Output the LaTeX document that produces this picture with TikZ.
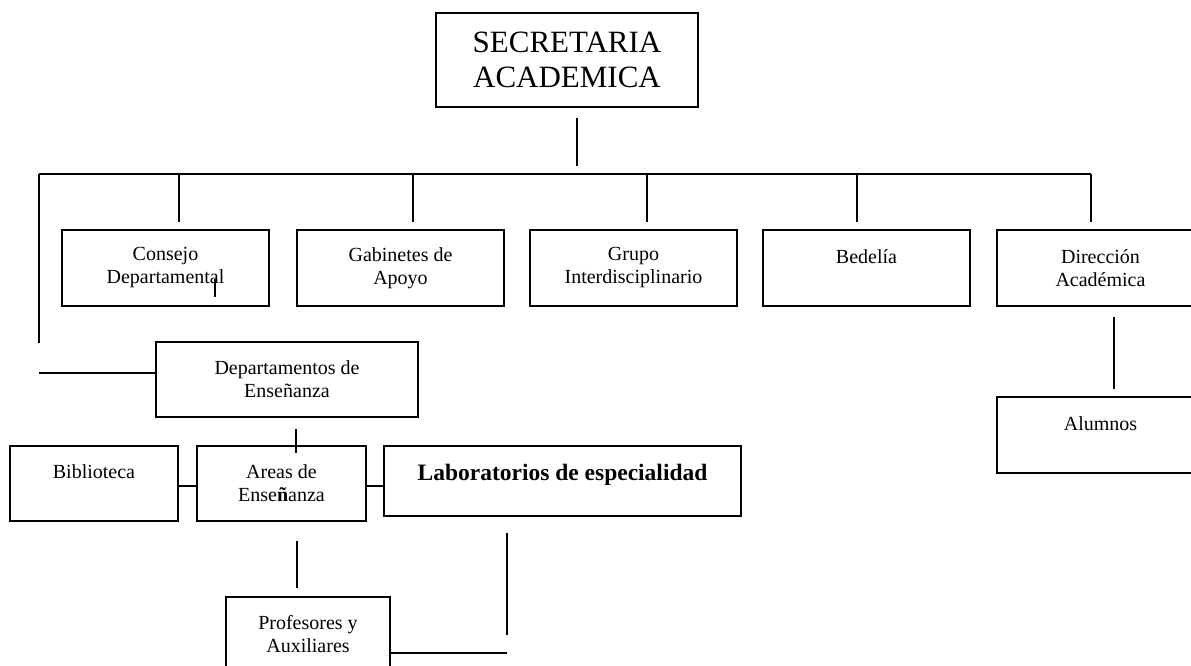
\documentclass[tikz,border=0pt]{standalone}
\usepackage{fontspec}
\setmainfont{Liberation Serif}
\usetikzlibrary{positioning}

\tikzset{
  caja/.style={draw,line width=2pt,align=center,inner sep=0pt,outer sep=0pt,
    font=\fontsize{20}{23}\selectfont},
  fila/.style={caja,minimum width=207pt,minimum height=76pt},
  linea/.style={line width=2pt},
}

\begin{document}
\begin{tikzpicture}[x=1pt,y=-1pt]
  \useasboundingbox (0,0) rectangle (1191,666);
  % secretaria
  \node[caja,minimum width=262pt,minimum height=94pt,
    font=\fontsize{31}{35}\selectfont] (sec) at (567,60) {SECRETARIA\\ACADEMICA};
  % primera fila
  \node[fila] (consejo) at (165.5,268) {Consejo\\Departamental};
  \node[fila,right=28pt of consejo] (gabinetes) {Gabinetes de\\Apoyo};
  \node[fila,right=26pt of gabinetes] (grupo) {Grupo\\Interdisciplinario};
  \node[fila,right=26pt of grupo] (bedelia) {Bedelía\\~};
  \node[fila,right=27pt of bedelia] (direccion) {Dirección\\Académica};
  \node[fila,below=91pt of direccion] (alumnos) {Alumnos\\~};
  % ensenanza
  \node[caja,minimum width=262pt,minimum height=75pt] (dep) at (287,379.5)
    {Departamentos de\\Enseñanza};
  \node[caja,minimum width=169pt,minimum height=75pt] (areas) at (281.5,483.5)
    {Areas de\\Ense\textbf{ñ}anza};
  \node[caja,minimum width=168pt,minimum height=75pt,left=19pt of areas] (biblio)
    {Biblioteca\\~};
  \node[caja,minimum width=357pt,minimum height=70pt,text depth=17pt,
    font=\fontsize{23.5}{27}\selectfont\bfseries] (lab) at (562.5,481)
    {Laboratorios de especialidad};
  \node[caja,minimum width=164pt,minimum height=75pt] (prof) at (308,634.5)
    {Profesores y\\Auxiliares};

  % conectores
  \coordinate (bus-l) at (39,174);
  \coordinate (bus-r) at (1091,174);
  \draw[linea] (bus-l) -- (bus-r);
  \draw[linea,shorten <=11pt,shorten >=8pt]
    ([xshift=10pt]sec.south) -- ([xshift=10pt]sec.south |- bus-l);
  \foreach \n/\dx in {consejo/13.5,gabinetes/12.5,grupo/13.5,bedelia/-9.5,direccion/-9.5}
    \draw[linea,shorten >=8pt] ([xshift=\dx pt]\n.north |- bus-l) -- ([xshift=\dx pt]\n.north);
  \draw[linea] ([xshift=49.5pt,yshift=-11pt]consejo.center) -- ++(0,18);
  \coordinate (izq-b) at (39,343);
  \coordinate (izq-h) at (39,373);
  \draw[linea] (bus-l) -- (izq-b);
  \draw[linea] (izq-h) -- (izq-h -| dep.west);
  \draw[linea,shorten <=11pt,shorten >=8pt]
    ([xshift=13.5pt]direccion.south) -- ([xshift=13.5pt]alumnos.north);
  \draw[linea,shorten <=12pt,shorten >=-7pt]
    ([xshift=9pt]dep.south) -- ([xshift=9pt]dep.south |- areas.north);
  \draw[linea] ([yshift=-2.5pt]biblio.east) -- ([yshift=-2.5pt]biblio.east -| areas.west);
  \draw[linea] ([yshift=-2.5pt]areas.east) -- ([yshift=-2.5pt]areas.east -| lab.west);
  \draw[linea,shorten <=20pt,shorten >=9pt]
    ([xshift=15.5pt]areas.south) -- ([xshift=15.5pt]areas.south |- prof.north);
  \coordinate (lab-a) at (507,635);
  \coordinate (lab-b) at (507,653);
  \draw[linea,shorten <=17pt] (lab.south -| lab-a) -- (lab-a);
  \draw[linea] (prof.east |- lab-b) -- (lab-b);
\end{tikzpicture}
\end{document}
